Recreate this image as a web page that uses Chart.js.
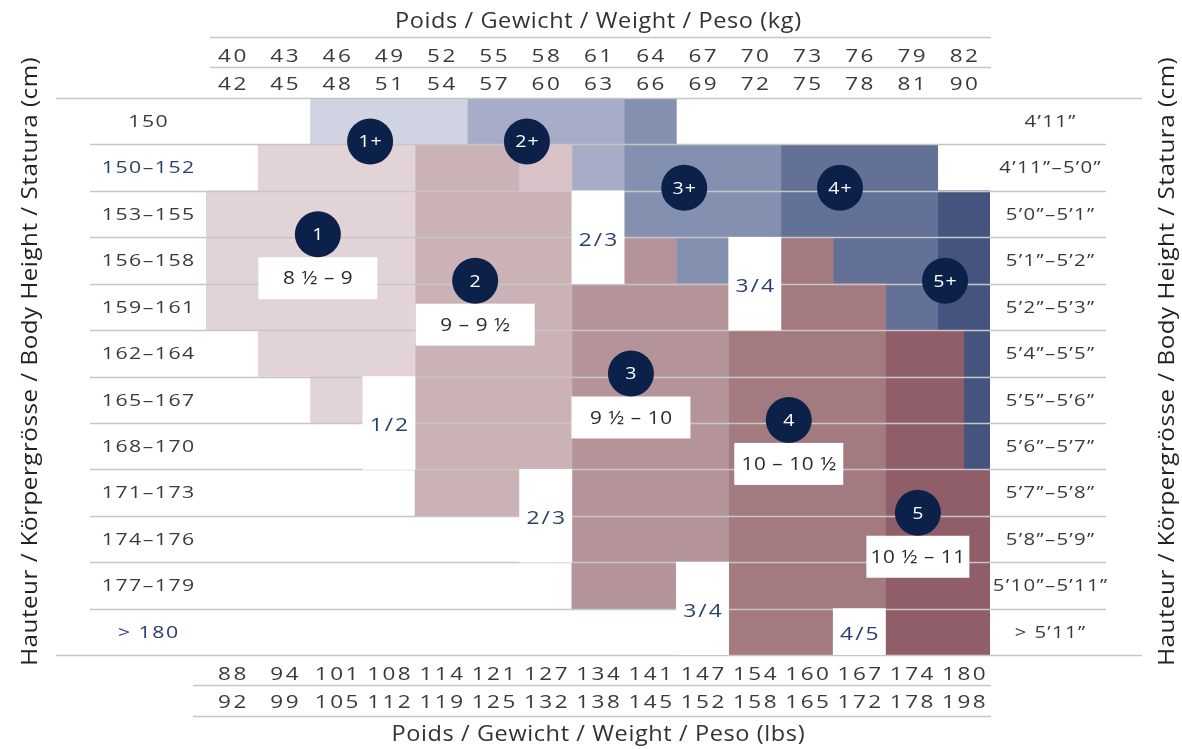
<!DOCTYPE html>
<html>
<head>
<meta charset="utf-8">
<script src="https://cdn.jsdelivr.net/npm/chart.js@4.4.1/dist/chart.umd.min.js"></script>
<style>
  html, body { margin: 0; padding: 0; background: #ffffff; }
  canvas { display: block; }
</style>
</head>
<body>
<canvas id="chart" width="1182" height="749"></canvas>
<script>
// ---- Data ------------------------------------------------------------
const heightsCm = ['150', '150–152', '153–155', '156–158', '159–161', '162–164',
  '165–167', '168–170', '171–173', '174–176', '177–179', '> 180'];
const heightsFtIn = ['4’11”', '4’11”–5’0”', '5’0”–5’1”', '5’1”–5’2”', '5’2”–5’3”', '5’4”–5’5”',
  '5’5”–5’6”', '5’6”–5’7”', '5’7”–5’8”', '5’8”–5’9”', '5’10”–5’11”', '> 5’11”'];
const kgFrom  = [40, 43, 46, 49, 52, 55, 58, 61, 64, 67, 70, 73, 76, 79, 82];
const kgTo    = [42, 45, 48, 51, 54, 57, 60, 63, 66, 69, 72, 75, 78, 81, 90];
const lbsFrom = [88, 94, 101, 108, 114, 121, 127, 134, 141, 147, 154, 160, 167, 174, 180];
const lbsTo   = [92, 99, 105, 112, 119, 125, 132, 138, 145, 152, 158, 165, 172, 178, 198];

// Weight-band span [from, to) covered by each size, one entry per height row
const size1   = [null, [1, 4], [0, 4], [0, 4], [0, 4], [1, 4], [2, 3], null, null, null, null, null];
const size2   = [null, [4, 6], [4, 7], [4, 7], [4, 7], [4, 7], [4, 7], [4, 7], [4, 6], null, null, null];
const size2lt = [null, [6, 7], null, null, null, null, null, null, null, null, null, null];
const size3   = [null, null, null, [8, 9], [7, 10], [7, 10], [7, 10], [7, 10], [7, 10], [7, 10], [7, 9], null];
const size4   = [null, null, null, [11, 12], [11, 13], [10, 13], [10, 13], [10, 13], [10, 13], [10, 13], [10, 13], [10, 12]];
const size5   = [null, null, null, null, null, [13, 14.5], [13, 14.5], [13, 14.5], [13, 15], [13, 15], [13, 15], [13, 15]];
const size1p  = [[2, 5], null, null, null, null, null, null, null, null, null, null, null];
const size2p  = [[5, 8], [7, 8], null, null, null, null, null, null, null, null, null, null];
const size3p  = [[8, 9], [8, 11], [8, 11], [9, 10], null, null, null, null, null, null, null, null];
const size4p  = [null, [11, 14], [11, 14], [12, 14], [13, 14], null, null, null, null, null, null, null];
const size5p  = [null, null, [14, 15], [14, 15], [14, 15], [14.5, 15], [14.5, 15], [14.5, 15], null, null, null, null];

// In-between sizes: label, weight band, first and last height row
const betweenLabels = ['2/3', '1/2', '3/4', '2/3', '3/4', '4/5'];
const betweenBands  = [7, 3, 10, 6, 9, 12];
const betweenRows   = [[2, 3], [6, 7], [3, 4], [8, 9], [10, 11], [11, 11]];

// Size badges and the matching shoe sizes
const badgeLabels = ['1+', '2+', '3+', '4+', '5+', '1', '2', '3', '4', '5'];
const shoeSizes = { '1': '8 ½ – 9', '2': '9 – 9 ½', '3': '9 ½ – 10', '4': '10 – 10 ½', '5': '10 ½ – 11' };

// ---- Styles & layout -------------------------------------------------
const FONT = '"Open Sans", "Noto Sans", sans-serif';
const NAVY = '#0c2149';
const NAVY_TEXT = '#2b3f6c';
const TEXT = '#3a3a3a';
const RULE = '#c6c6c6';

const sizeSeries = [
  { data: size1,   color: '#e2d3d7' },
  { data: size2lt, color: '#d9c3c7' },
  { data: size2,   color: '#cbb2b6' },
  { data: size3,   color: '#b59499' },
  { data: size4,   color: '#a27a80' },
  { data: size5,   color: '#8f5e69' },
  { data: size1p,  color: '#d0d3e2' },
  { data: size2p,  color: '#a7adc8' },
  { data: size3p,  color: '#8490b0' },
  { data: size4p,  color: '#637196' },
  { data: size5p,  color: '#44547e' }
];

// badge anchor: weight position and the row boundary it sits on
const badgeAnchors = {
  '1+': [3.14, 1], '2+': [6.14, 1], '3+': [9.15, 2], '4+': [12.13, 2], '5+': [14.14, 4],
  '1': [2.14, 3], '2': [5.15, 4], '3': [8.13, 6], '4': [11.15, 7], '5': [13.62, 9]
};
const shoeBoxWidths = { '1': 119, '2': 119, '3': 119, '4': 109, '5': 103 };

const datasets = sizeSeries.map(s => ({
  data: s.data,
  backgroundColor: s.color,
  order: 1,
  kind: 'size'
}));
betweenLabels.forEach((lab, i) => {
  const data = heightsCm.map((_, r) =>
    (r >= betweenRows[i][0] && r <= betweenRows[i][1]) ? [betweenBands[i], betweenBands[i] + 1] : null);
  datasets.push({ data, backgroundColor: '#ffffff', order: 0, kind: 'between', label: lab });
});

function setFont(ctx, size, weight) {
  ctx.font = `${weight || 400} ${size}px ${FONT}`;
}

// centred text, widened horizontally (stretch) with a little extra tracking
function wideText(ctx, text, cx, cy, stretch, spacing) {
  const chars = Array.from(text);
  const widths = chars.map(c => ctx.measureText(c).width * stretch);
  const total = widths.reduce((s, w) => s + w, 0) + spacing * (chars.length - 1);
  let x = cx - total / 2;
  ctx.save();
  ctx.textAlign = 'left';
  chars.forEach((c, i) => {
    ctx.save();
    ctx.translate(x, cy);
    ctx.scale(stretch, 1);
    ctx.fillText(c, 0, 0);
    ctx.restore();
    x += widths[i] + spacing;
  });
  ctx.restore();
}

function rowEdge(chart, k) {
  const area = chart.chartArea;
  const h = (area.bottom - area.top) / heightsCm.length;
  return area.top + k * h;
}

function hLine(ctx, x0, x1, y) {
  ctx.beginPath();
  ctx.moveTo(x0, y);
  ctx.lineTo(x1, y);
  ctx.stroke();
}

let rulesDrawn = false;

const sizeChartPlugin = {
  id: 'sizeChart',
  beforeDatasetsDraw() { rulesDrawn = false; },
  beforeDatasetDraw(chart, args) {
    const ds = chart.data.datasets[args.index];
    if (ds.kind !== 'between' || rulesDrawn) return;
    rulesDrawn = true;
    const ctx = chart.ctx;
    const a = chart.chartArea;
    ctx.save();
    ctx.strokeStyle = RULE;
    ctx.lineWidth = 1.6;
    for (let k = 0; k <= heightsCm.length; k++) {
      const y = Math.round(rowEdge(chart, k)) + 0.5;
      if (k === 0 || k === heightsCm.length) hLine(ctx, a.left - 150, a.right + 152, y);
      else hLine(ctx, a.left - 116, a.right + 116, y);
    }
    ctx.restore();
  },
  afterDatasetsDraw(chart) {
    const ctx = chart.ctx;
    const xs = chart.scales.x;
    ctx.save();
    ctx.textAlign = 'center';
    ctx.textBaseline = 'middle';

    // in-between size labels
    setFont(ctx, 19, 400);
    ctx.fillStyle = NAVY_TEXT;
    betweenLabels.forEach((lab, i) => {
      const cx = xs.getPixelForValue(betweenBands[i] + 0.5);
      const cy = (rowEdge(chart, betweenRows[i][0]) + rowEdge(chart, betweenRows[i][1] + 1)) / 2 + 3;
      wideText(ctx, lab, cx, cy, 1.2, 2);
    });

    // shoe-size boxes
    badgeLabels.forEach(lab => {
      if (!shoeSizes[lab]) return;
      const [bx, by] = badgeAnchors[lab];
      const cx = xs.getPixelForValue(bx);
      const cy = rowEdge(chart, by) - 3 + 44;
      const w = shoeBoxWidths[lab], h = 42;
      ctx.fillStyle = '#ffffff';
      ctx.fillRect(cx - w / 2, cy - h / 2, w, h);
      setFont(ctx, 18, 400);
      ctx.fillStyle = '#2a2a2a';
      wideText(ctx, shoeSizes[lab], cx, cy + 1, 1.15, 0.6);
    });

    // size badges
    badgeLabels.forEach(lab => {
      const [bx, by] = badgeAnchors[lab];
      const cx = xs.getPixelForValue(bx);
      const cy = rowEdge(chart, by) - 3;
      ctx.beginPath();
      ctx.arc(cx, cy, 23, 0, Math.PI * 2);
      ctx.fillStyle = NAVY;
      ctx.fill();
      setFont(ctx, 17, 500);
      ctx.fillStyle = '#ffffff';
      wideText(ctx, lab, cx, cy + 1, 1.15, 1);
    });
    ctx.restore();
  },
  afterDraw(chart) {
    const ctx = chart.ctx;
    const xs = chart.scales.x;
    const a = chart.chartArea;
    ctx.save();
    ctx.textAlign = 'center';
    ctx.textBaseline = 'middle';

    // header / footer rules
    ctx.strokeStyle = RULE;
    ctx.lineWidth = 1.6;
    hLine(ctx, a.left + 4, a.right + 1, 37.5);
    hLine(ctx, a.left + 4, a.right + 1, 67.5);
    hLine(ctx, a.left - 13, a.right + 1, 685.5);
    hLine(ctx, a.left - 13, a.right + 1, 716.5);

    // weight bands
    setFont(ctx, 18, 400);
    ctx.fillStyle = TEXT;
    for (let i = 0; i < kgFrom.length; i++) {
      const cx = xs.getPixelForValue(i + 0.5);
      wideText(ctx, String(kgFrom[i]), cx, 57, 1.25, 2.5);
      wideText(ctx, String(kgTo[i]), cx, 85, 1.25, 2.5);
      wideText(ctx, String(lbsFrom[i]), cx, 675, 1.25, 2.5);
      wideText(ctx, String(lbsTo[i]), cx, 703, 1.25, 2.5);
    }

    // axis titles
    setFont(ctx, 21, 400);
    ctx.fillStyle = '#333333';
    wideText(ctx, 'Poids / Gewicht / Weight / Peso (kg)', (a.left + a.right) / 2, 22, 1.12, 0.6);
    wideText(ctx, 'Poids / Gewicht / Weight / Peso (lbs)', (a.left + a.right) / 2, 735, 1.12, 0.6);

    // height rows
    setFont(ctx, 17, 400);
    heightsCm.forEach((lab, r) => {
      const cy = (rowEdge(chart, r) + rowEdge(chart, r + 1)) / 2 + 1;
      ctx.fillStyle = (r === 1 || r === heightsCm.length - 1) ? NAVY_TEXT : TEXT;
      wideText(ctx, lab, 148, cy, 1.25, 1.5);
      ctx.fillStyle = TEXT;
      wideText(ctx, heightsFtIn[r], 1050, cy, 1.2, 1.3);
    });

    // vertical titles
    setFont(ctx, 22, 400);
    ctx.fillStyle = '#222222';
    const midY = (a.top + a.bottom) / 2 - 15;
    [31, 1168].forEach(x => {
      ctx.save();
      ctx.translate(x, midY);
      ctx.rotate(-Math.PI / 2);
      wideText(ctx, 'Hauteur / Körpergrösse / Body Height / Statura (cm)', 0, 0, 1.1, 0.5);
      ctx.restore();
    });
    ctx.restore();
  }
};

new Chart(document.getElementById('chart'), {
  type: 'bar',
  data: { labels: heightsCm, datasets },
  options: {
    indexAxis: 'y',
    responsive: false,
    animation: false,
    events: [],
    layout: { padding: { left: 206, right: 192, top: 98, bottom: 94 } },
    datasets: {
      bar: {
        grouped: false,
        categoryPercentage: 1,
        barPercentage: 1,
        borderWidth: 0,
        borderSkipped: false
      }
    },
    scales: {
      x: { type: 'linear', min: 0, max: 15, display: false },
      y: { type: 'category', offset: true, display: false }
    },
    plugins: { legend: { display: false }, tooltip: { enabled: false } }
  },
  plugins: [sizeChartPlugin]
});
</script>
</body>
</html>
